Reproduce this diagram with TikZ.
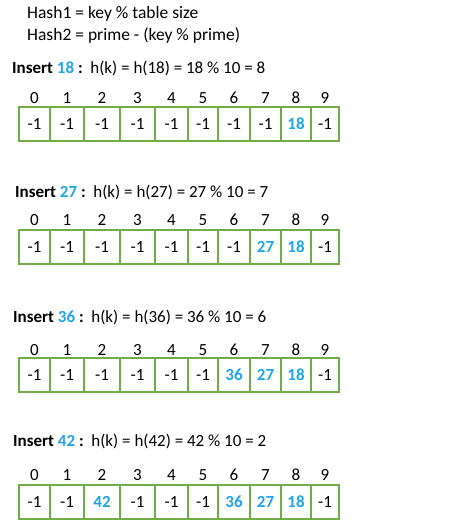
\documentclass[tikz,border=0pt]{standalone}
\usepackage{fontspec}
\setmainfont{Carlito}
\definecolor{cellgreen}{HTML}{70AD47}
\definecolor{keyblue}{HTML}{1FA5EA}
\tikzset{
  hdr/.style={anchor=base west, inner sep=0pt, font=\fontsize{17.5}{20}\selectfont},
  ins/.style={anchor=base west, inner sep=0pt, font=\fontsize{17}{20}\selectfont},
  idx/.style={anchor=base, inner sep=0pt, font=\fontsize{17}{20}\selectfont},
  cell/.style={draw=cellgreen, line width=2pt},
  val/.style={inner sep=0pt, font=\fontsize{17}{20}\selectfont},
  hot/.style={val, text=keyblue, font=\fontsize{17}{20}\selectfont\bfseries},
}
\begin{document}
\begin{tikzpicture}[x=1pt,y=-1pt]
\useasboundingbox (0,0) rectangle (464,525);
\node[hdr] (h1) at (27,18) {Hash1 = key \% table size};
\node[hdr] (h2) at (27,40) {Hash2 = prime - (key \% prime)};
\def\xs{{19,50,84,120,155,188,218,250,281,311,339}}
\foreach \row/\ty/\iy/\ix/\dy/\key/\hk/\res in {1/107/73/12/103/18/18/8, 2/230/197/15/225/27/27/7, 3/358/322/13/355/36/36/6, 4/485/446/13/480/42/42/2}{
  \node[ins] (ins\row) at (\ix,\iy) {\textbf{Insert \textcolor{keyblue}{\key} :}\hspace{0.45em}h(k) = h(\hk) = \hk\ \% 10 = \res};
  \foreach \i in {0,...,9}{
    \pgfmathsetmacro{\xa}{\xs[\i]}
    \pgfmathsetmacro{\xb}{\xs[\i+1]}
    \pgfmathsetmacro{\xc}{(\xa+\xb)/2}
    \node[idx] (i\row-\i) at (\xc,\dy) {\i};
    \draw[cell] (\xa,\ty) rectangle (\xb,\ty+34);
    \coordinate (c\row-\i) at (\xc,\ty+17);
  }
}
\foreach \row in {1,2,3,4}{
  \foreach \i in {0,...,9}{
    \def\isk{0}
    \ifnum\i=8 \def\isk{1}\fi
    \ifnum\row>1 \ifnum\i=7 \def\isk{1}\fi\fi
    \ifnum\row>2 \ifnum\i=6 \def\isk{1}\fi\fi
    \ifnum\row>3 \ifnum\i=2 \def\isk{1}\fi\fi
    \ifnum\isk=0
      \node[val] (v\row-\i) at (c\row-\i) {-1};
    \fi
  }
}
\node[hot] (v1-8) at (c1-8) {18};
\node[hot] (v2-7) at (c2-7) {27};
\node[hot] (v2-8) at (c2-8) {18};
\node[hot] (v3-6) at (c3-6) {36};
\node[hot] (v3-7) at (c3-7) {27};
\node[hot] (v3-8) at (c3-8) {18};
\node[hot] (v4-2) at (c4-2) {42};
\node[hot] (v4-6) at (c4-6) {36};
\node[hot] (v4-7) at (c4-7) {27};
\node[hot] (v4-8) at (c4-8) {18};
\end{tikzpicture}
\end{document}
